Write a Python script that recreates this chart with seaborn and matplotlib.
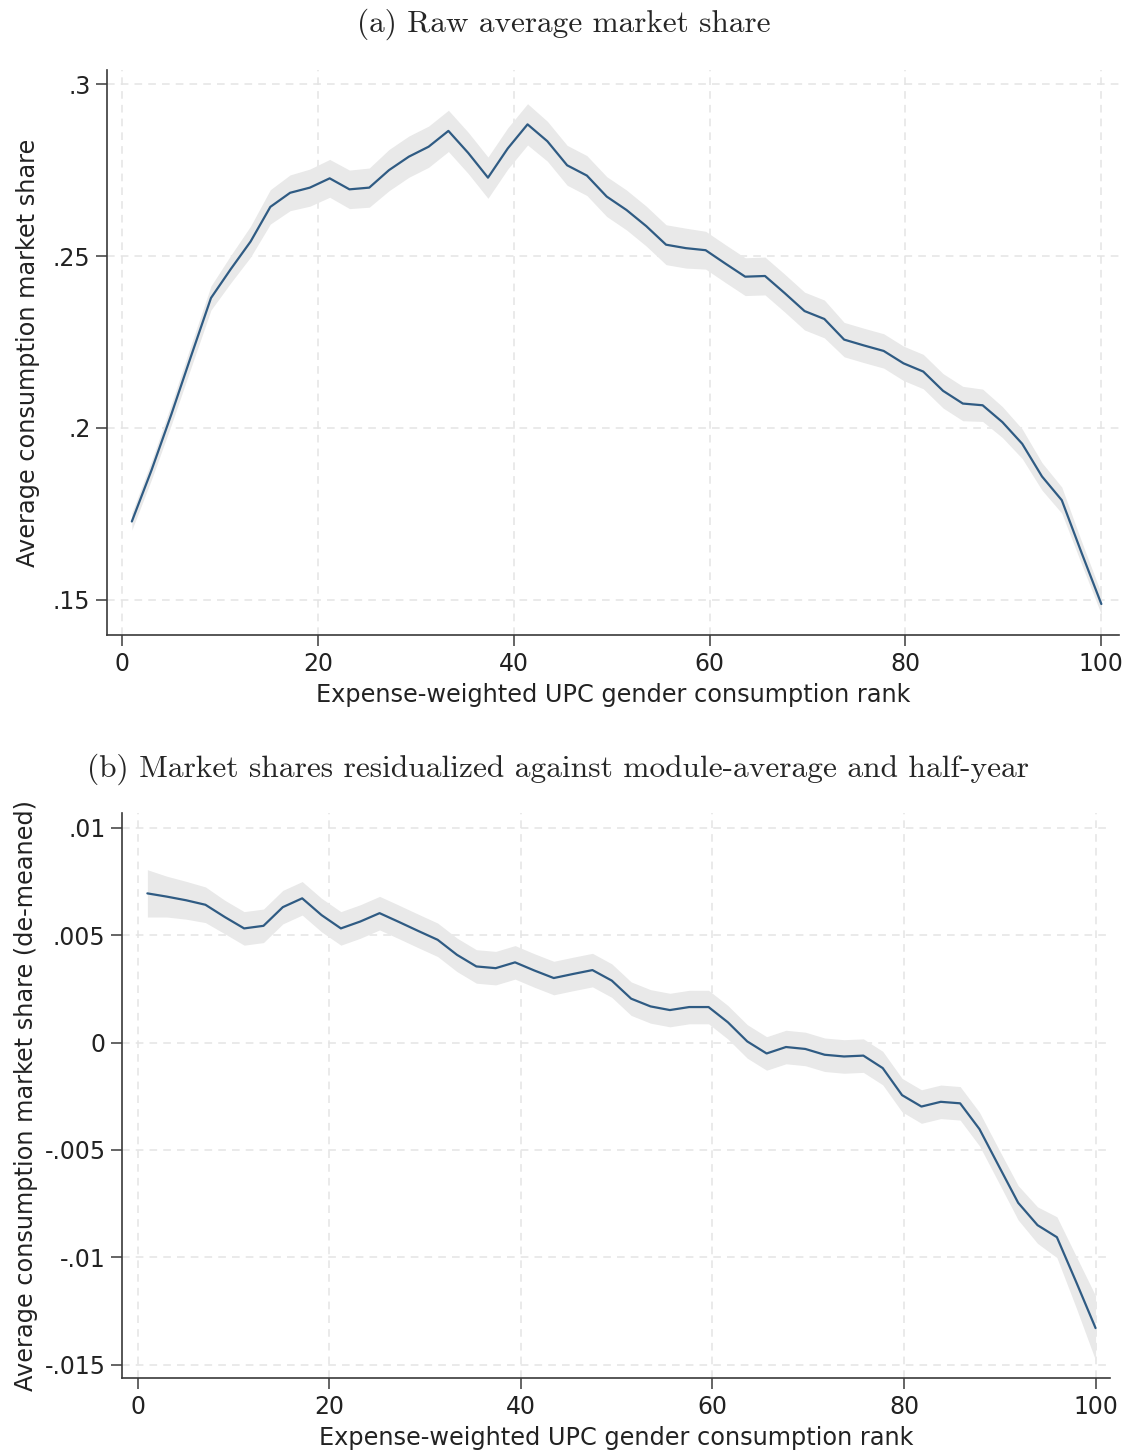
import matplotlib
matplotlib.use("Agg")
import matplotlib.pyplot as plt
import numpy as np
import pandas as pd
import seaborn as sns

# rank grid (50 evaluation points from 1 to 100)
rank = np.linspace(1, 100, 50)

# panel (a): raw average market share
share_a = [0.1728, 0.1878, 0.2040, 0.2210, 0.2378, 0.2462, 0.2542, 0.2643, 0.2684, 0.2699,
           0.2726, 0.2694, 0.2699, 0.2750, 0.2789, 0.2818, 0.2864, 0.2800, 0.2728, 0.2813,
           0.2883, 0.2834, 0.2764, 0.2734, 0.2673, 0.2634, 0.2587, 0.2533, 0.2523, 0.2517,
           0.2478, 0.2440, 0.2442, 0.2392, 0.2340, 0.2317, 0.2257, 0.2240, 0.2224, 0.2188,
           0.2164, 0.2108, 0.2071, 0.2066, 0.2017, 0.1954, 0.1859, 0.1790, 0.1637, 0.1488]
# half width of the confidence band
ci_a = [0.0025, 0.0027, 0.0030, 0.0033, 0.0035, 0.0040, 0.0045, 0.0050, 0.0052, 0.0054,
        0.0055, 0.0056, 0.0057, 0.0060, 0.0060, 0.0060, 0.0060, 0.0060, 0.0060, 0.0060,
        0.0060, 0.0058, 0.0058, 0.0058, 0.0058, 0.0058, 0.0058, 0.0058, 0.0058, 0.0055,
        0.0055, 0.0055, 0.0055, 0.0055, 0.0055, 0.0055, 0.0050, 0.0050, 0.0050, 0.0050,
        0.0050, 0.0050, 0.0050, 0.0047, 0.0045, 0.0043, 0.0040, 0.0038, 0.0033, 0.0030]

# panel (b): residualized market share
share_b = [0.00694, 0.00679, 0.00662, 0.00641, 0.00584, 0.00531, 0.00543, 0.00630, 0.00671, 0.00593,
           0.00531, 0.00563, 0.00602, 0.00561, 0.00519, 0.00478, 0.00408, 0.00354, 0.00346, 0.00373,
           0.00335, 0.00300, 0.00319, 0.00337, 0.00288, 0.00204, 0.00168, 0.00151, 0.00165, 0.00165,
           0.00094, 0.00005, -0.00051, -0.00021, -0.00030, -0.00057, -0.00065, -0.00061, -0.00119, -0.00245,
           -0.00298, -0.00276, -0.00283, -0.00403, -0.00575, -0.00746, -0.00850, -0.00906, -0.01115, -0.01329]
ci_b = [0.00110, 0.00095, 0.00088, 0.00083, 0.00078, 0.00078, 0.00078, 0.00078, 0.00078, 0.00078,
        0.00078, 0.00078, 0.00078, 0.00078, 0.00078, 0.00078, 0.00078, 0.00078, 0.00078, 0.00078,
        0.00078, 0.00078, 0.00078, 0.00078, 0.00078, 0.00078, 0.00078, 0.00078, 0.00078, 0.00078,
        0.00078, 0.00078, 0.00078, 0.00078, 0.00078, 0.00078, 0.00078, 0.00078, 0.00078, 0.00078,
        0.00078, 0.00078, 0.00078, 0.00078, 0.00078, 0.00080, 0.00085, 0.00095, 0.00120, 0.00150]

xticks = [0, 20, 40, 60, 80, 100]
yticks_a = [0.15, 0.20, 0.25, 0.30]
ylabels_a = [".15", ".2", ".25", ".3"]
yticks_b = [-0.015, -0.01, -0.005, 0, 0.005, 0.01]
ylabels_b = ["-.015", "-.01", "-.005", "0", ".005", ".01"]

sns.set_style("white")
plt.rcParams["font.family"] = ["DejaVu Sans"]

line_col = "#2f5b83"
band_col = "#e9e9e9"
grid_col = "#e4e4e4"
spine_col = "#3a3a3a"
xlab = "Expense-weighted UPC gender consumption rank"

fig = plt.figure(figsize=(11.28, 14.5), dpi=100)
ax1 = fig.add_axes([0.0949, 0.5621, 0.8971, 0.3896])
ax2 = fig.add_axes([0.1084, 0.0497, 0.8756, 0.3896])


def draw(ax, y, ci, yt, ylab, ylim, xlim, ytitle, ypad):
    df = pd.DataFrame({"rank": rank, "y": y, "ci": ci})
    ax.fill_between(df["rank"], df["y"] - df["ci"], df["y"] + df["ci"],
                    color=band_col, lw=0, zorder=1)
    sns.lineplot(data=df, x="rank", y="y", ax=ax, color=line_col, lw=1.6, zorder=3)
    ax.set_xlim(*xlim)
    ax.set_ylim(*ylim)
    ax.set_xticks(xticks, [str(t) for t in xticks])
    ax.set_yticks(yt, ylab)
    ax.grid(True, color=grid_col, ls=(0, (5, 4)), lw=1.1, zorder=0)
    ax.set_axisbelow(True)
    for s in ["top", "right"]:
        ax.spines[s].set_visible(False)
    for s in ["left", "bottom"]:
        ax.spines[s].set_color(spine_col)
        ax.spines[s].set_linewidth(1.2)
    ax.tick_params(axis="both", direction="out", length=8, width=1.1, color=spine_col,
                   labelsize=17, labelcolor="#222222", left=True, bottom=True, pad=4)
    ax.set_xlabel(xlab, fontsize=17.3, color="#222222", labelpad=5)
    ax.set_ylabel(ytitle, fontsize=17.3, color="#222222", labelpad=ypad)


draw(ax1, share_a, ci_a, yticks_a, ylabels_a, (0.1398, 0.3041), (-1.53, 101.8),
     "Average consumption market share", 9)
draw(ax2, share_b, ci_b, yticks_b, ylabels_b, (-0.01561, 0.01068), (-1.62, 101.5),
     "Average consumption market share (de-meaned)", 4.5)

fig.text(564 / 1128, 1 - 24 / 1450, "(a) Raw average market share", family="cmr10",
         fontsize=22.5, ha="center", va="center")
fig.text(558 / 1128, 1 - 769 / 1450, "(b) Market shares residualized against module-average and half-year",
         family="cmr10", fontsize=22.6, ha="center", va="center")

fig.savefig("out.png", dpi=100)
